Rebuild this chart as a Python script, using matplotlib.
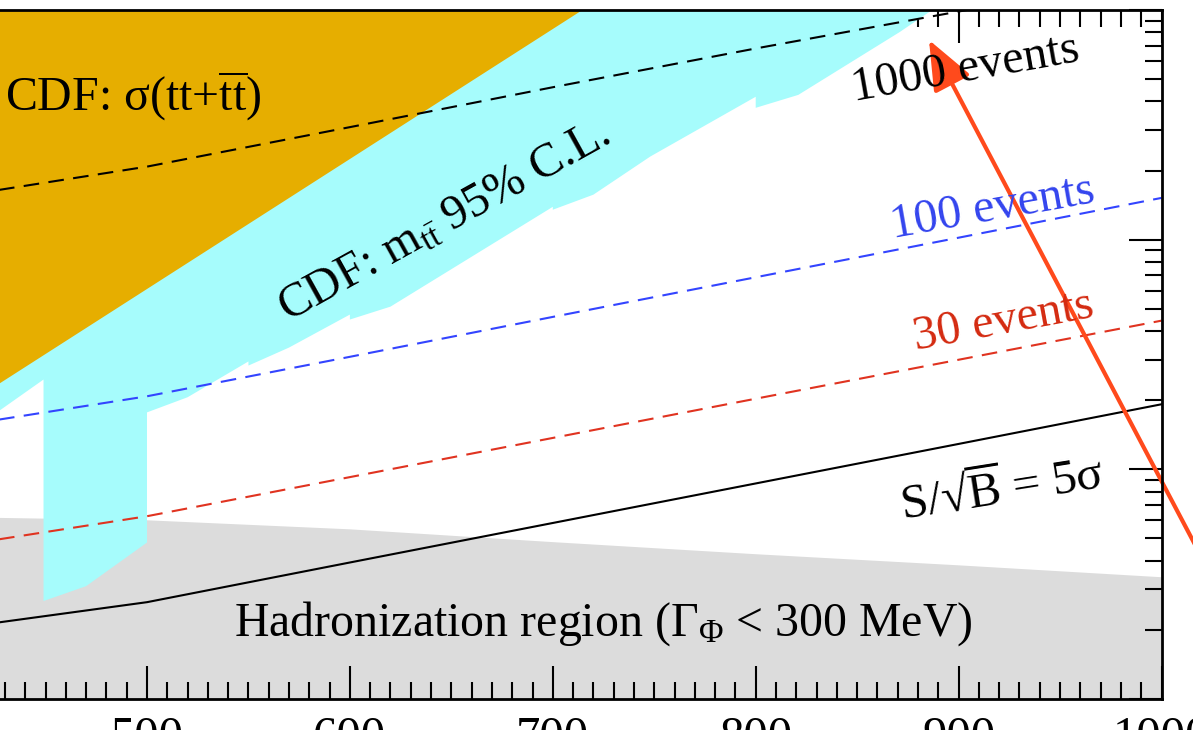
import matplotlib
matplotlib.use('Agg')
import matplotlib.pyplot as plt
from matplotlib.ticker import MultipleLocator, LogLocator, NullFormatter
from matplotlib.patches import ArrowStyle

plt.rcParams['font.family'] = ['Liberation Serif', 'DejaVu Serif']
plt.rcParams['mathtext.fontset'] = 'custom'
plt.rcParams['mathtext.rm'] = 'Liberation Serif'
plt.rcParams['mathtext.it'] = 'Liberation Serif:italic'
plt.rcParams['mathtext.bf'] = 'Liberation Serif:bold'

# ---------------- data ----------------
mass_lines = [400, 500, 600, 700, 800, 900, 1000]
events_1000 = [15.1, 20.8, 30.9, 46.1, 68.0, 98.5, 142]
events_100 = [1.51, 2.08, 3.09, 4.61, 6.86, 10.2, 15.2]
events_30 = [0.455, 0.625, 0.925, 1.37, 2.03, 3.00, 4.44]
signif_5sigma = [0.20, 0.264, 0.393, 0.584, 0.868, 1.29, 1.92]

hadron_mass = [400, 500, 600, 700, 800, 900, 1000]
hadron_bound = [0.62, 0.60, 0.548, 0.482, 0.427, 0.382, 0.339]

cdf_mtt_mass = [400, 428, 449, 449, 470, 500, 500, 520, 550, 550, 570, 600, 600,
                620, 700, 700, 720, 748, 800, 800, 821, 871, 887]
cdf_mtt_low = [1.3, 1.82, 2.46, 0.267, 0.31, 0.48, 1.77, 2.06, 2.95, 2.83, 3.39, 4.72, 4.49,
               5.11, 13.9, 13.5, 15.7, 23.0, 41.9, 37.5, 42.7, 80.2, 100]

cdf_sigma_mass = [400, 714]
cdf_sigma_low = [1.67, 100]

x_ticks = [400, 500, 600, 700, 800, 900, 1000]
x_lim = (400, 1000)
y_lim = (0.1, 100)

# ---------------- figure ----------------
W, H = 1193, 730
fig = plt.figure(figsize=(W / 100, H / 100), dpi=100)


def fx(px):
    return px / W


def fy(py):
    return 1 - py / H


x_left_px, x_right_px = -55.9, 1161.5
y_top_px, y_bot_px = 10, 699
ax = fig.add_axes([fx(x_left_px), fy(y_bot_px),
                   (x_right_px - x_left_px) / W, (y_bot_px - y_top_px) / H])
ax.set_yscale('log')
ax.set_xlim(*x_lim)
ax.set_ylim(*y_lim)

# regions
ax.fill_between(hadron_mass, 0.01, hadron_bound, color='#dcdcdc', lw=0, zorder=1)
ax.fill_between(cdf_mtt_mass, cdf_mtt_low, 1000, color='#a6fcfc', lw=0, zorder=2)
ax.fill_between(cdf_sigma_mass, cdf_sigma_low, 1000, color='#e6ae00', lw=0, zorder=3)

# lines
lw = 1.5
dash = (0, (7.5, 4.5))
ax.plot(mass_lines, events_1000, color='black', lw=lw, ls=dash, zorder=5)
ax.plot(mass_lines, events_100, color='#3344ff', lw=lw, ls=dash, zorder=5)
ax.plot(mass_lines, events_30, color='#e03320', lw=lw, ls=dash, zorder=5)
ax.plot(mass_lines, signif_5sigma, color='black', lw=1.5, zorder=5)

# ticks
ax.set_xticks(x_ticks)
ax.xaxis.set_minor_locator(MultipleLocator(10))
ax.yaxis.set_major_locator(LogLocator(base=10))
ax.yaxis.set_minor_locator(LogLocator(base=10, subs=[2, 3, 4, 5, 6, 7, 8, 9]))
ax.yaxis.set_minor_formatter(NullFormatter())
ax.tick_params(which='both', direction='in', top=True, right=True, width=1.5,
               labelsize=35, colors='black')
ax.tick_params(which='major', length=24, pad=12)
ax.tick_params(which='minor', length=12)
for s in ax.spines.values():
    s.set_linewidth(2)
    s.set_zorder(10)

# texts
fs = 34.5
fig.text(fx(5), fy(111), r"CDF: σ(tt+$\overline{\mathrm{tt}}$)", fontsize=fs,
         ha='left', va='baseline')
fig.text(fx(450), fy(232), r"CDF: m$_{\mathrm{t}\bar{\mathrm{t}}}$ 95% C.L.", fontsize=fs,
         rotation=29, rotation_mode='anchor', ha='center', va='baseline')
fig.text(fx(967), fy(81), "1000 events", fontsize=fs, color='black',
         rotation=10, rotation_mode='anchor', ha='center', va='baseline')
fig.text(fx(995), fy(220), "100 events", fontsize=fs, color='#3344ee',
         rotation=10, rotation_mode='anchor', ha='center', va='baseline')
fig.text(fx(1006), fy(333), "30 events", fontsize=fs, color='#d42a10',
         rotation=10.5, rotation_mode='anchor', ha='center', va='baseline')
fig.text(fx(1004), fy(503), r"S/√$\overline{\mathrm{B}}$ = 5σ", fontsize=fs + 1, color='black',
         rotation=9, rotation_mode='anchor', ha='center', va='baseline')
fig.text(fx(603), fy(636), r"Hadronization region (Γ$_{\mathrm{Φ}}$ < 300 MeV)", fontsize=fs,
         ha='center', va='baseline', zorder=6)

# arrow
ax.annotate('', xy=(fx(929), fy(40)), xycoords='figure fraction',
            xytext=(fx(1240), fy(630)), textcoords='figure fraction',
            arrowprops=dict(arrowstyle=ArrowStyle('-|>', head_length=1.1, head_width=0.45),
                            color='#ff4a1c', lw=3, mutation_scale=28, shrinkA=0, shrinkB=0),
            annotation_clip=False, zorder=8)

fig.savefig('out.png', dpi=100)
